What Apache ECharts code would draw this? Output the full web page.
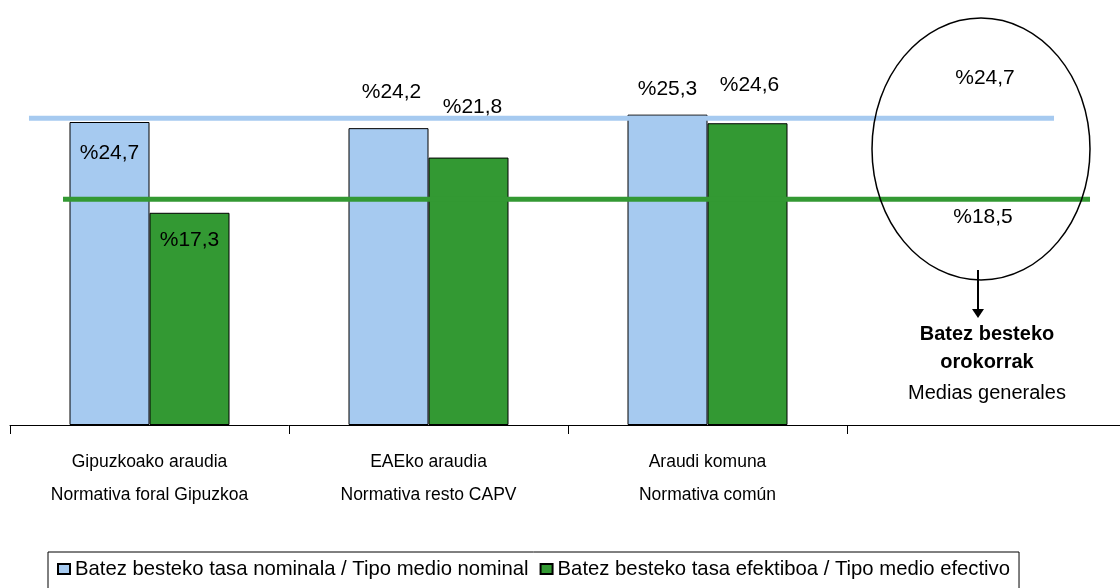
<!DOCTYPE html>
<html>
<head>
<meta charset="utf-8">
<script src="https://cdn.jsdelivr.net/npm/echarts@6/dist/echarts.min.js"></script>
<style>
  html, body { margin: 0; padding: 0; background: #fff; overflow: hidden; }
  /* el eje continúa un poco más allá del borde derecho */
  #chart { width: 1126px; height: 588px; }
</style>
</head>
<body>
<div id="chart"></div>
<script>
// datos del gráfico
var categories = [
  'Gipuzkoako araudia\nNormativa foral Gipuzkoa',
  'EAEko araudia\nNormativa resto CAPV',
  'Araudi komuna\nNormativa común',
  ''
]
var seriesNames = [
  'Batez besteko tasa nominala / Tipo medio nominal',
  'Batez besteko tasa efektiboa / Tipo medio efectivo'
]
var nominal = [24.7, 24.2, 25.3, null]
var efectivo = [17.3, 21.8, 24.6, null]
// medias generales (etiqueta) y altura a la que se dibuja cada línea
var avgValues = [24.7, 18.5]
var avgLineLevels = [25.0, 18.4]
var noteLines = ['Batez besteko', 'orokorrak', 'Medias generales']

var BLUE = '#A6CAF0'
var GREEN = '#339933'
var FONT = '"Liberation Sans", Arial, sans-serif'

function pct (v) {
  return '%' + v.toFixed(1).replace('.', ',')
}

// posición de cada etiqueta (estilo, no datos)
var nominalLabels = [
  { position: 'insideTop', distance: 21 },
  { position: 'top', distance: 25, offset: [3, 0] },
  { position: 'top', distance: 15 },
  {}
]
var efectivoLabels = [
  { position: 'insideTop', distance: 17 },
  { position: 'top', distance: 40, offset: [4, 0] },
  { position: 'top', distance: 28, offset: [2, 0] },
  {}
]

function barData (values, labels) {
  return values.map(function (v, i) {
    return { value: v, label: labels[i] }
  })
}

var myChart = echarts.init(document.getElementById('chart'))
myChart.setOption({
  animation: false,
  textStyle: { fontFamily: FONT },
  grid: { left: 10, right: 0, top: 57, bottom: 163, containLabel: false },
  xAxis: [{
    type: 'category',
    data: categories,
    axisLine: { lineStyle: { color: '#000', width: 1 } },
    axisTick: { show: true, length: 9, lineStyle: { color: '#000' } },
    axisLabel: { color: '#000', fontSize: 17.5, lineHeight: 33, margin: 21, fontFamily: FONT }
  }, {
    type: 'value',
    min: 0,
    max: categories.length,
    show: false
  }],
  yAxis: { type: 'value', min: 0, max: 30, show: false },
  legend: {
    left: 48,
    top: 552,
    padding: [7, 9, 12, 9],
    borderColor: '#000',
    borderWidth: 1,
    itemWidth: 12,
    itemHeight: 10,
    itemGap: 11,
    icon: 'rect',
    textStyle: { color: '#000', fontSize: 20.3, fontFamily: FONT },
    data: seriesNames
  },
  series: [{
    name: seriesNames[0],
    type: 'bar',
    barWidth: 80,
    barGap: '0%',
    itemStyle: { color: BLUE, borderColor: '#000', borderWidth: 1 },
    label: { show: true, color: '#000', fontSize: 21, formatter: function (p) { return pct(p.value) } },
    data: barData(nominal, nominalLabels)
  }, {
    name: seriesNames[1],
    type: 'bar',
    barWidth: 80,
    itemStyle: { color: GREEN, borderColor: '#000', borderWidth: 1 },
    label: { show: true, color: '#000', fontSize: 21, formatter: function (p) { return pct(p.value) } },
    data: barData(efectivo, efectivoLabels)
  }, {
    type: 'line',
    xAxisIndex: 1,
    symbol: 'none',
    z: 3,
    lineStyle: { color: BLUE, width: 5 },
    data: [[0.068, avgLineLevels[0]], [3.742, avgLineLevels[0]]]
  }, {
    type: 'line',
    xAxisIndex: 1,
    symbol: 'none',
    z: 3,
    lineStyle: { color: GREEN, width: 5 },
    data: [[0.19, avgLineLevels[1]], [3.871, avgLineLevels[1]]]
  }],
  graphic: [{
    type: 'ellipse',
    shape: { cx: 981, cy: 149, rx: 109, ry: 131 },
    style: { fill: 'none', stroke: '#000', lineWidth: 1.5 },
    z: 10
  }, {
    type: 'line',
    shape: { x1: 978, y1: 270, x2: 978, y2: 312 },
    style: { stroke: '#000', lineWidth: 2 },
    z: 10
  }, {
    type: 'polygon',
    shape: { points: [[972, 309], [984, 309], [978, 318]] },
    style: { fill: '#000' },
    z: 10
  }, {
    type: 'text',
    x: 985, y: 78,
    style: { text: pct(avgValues[0]), font: '21px ' + FONT, fill: '#000', align: 'center', verticalAlign: 'middle' },
    z: 10
  }, {
    type: 'text',
    x: 983, y: 217,
    style: { text: pct(avgValues[1]), font: '21px ' + FONT, fill: '#000', align: 'center', verticalAlign: 'middle' },
    z: 10
  }, {
    type: 'text',
    x: 987, y: 334,
    style: { text: noteLines[0], font: 'bold 20px ' + FONT, fill: '#000', align: 'center', verticalAlign: 'middle' },
    z: 10
  }, {
    type: 'text',
    x: 987, y: 362,
    style: { text: noteLines[1], font: 'bold 20px ' + FONT, fill: '#000', align: 'center', verticalAlign: 'middle' },
    z: 10
  }, {
    type: 'text',
    x: 987, y: 393,
    style: { text: noteLines[2], font: '20px ' + FONT, fill: '#000', align: 'center', verticalAlign: 'middle' },
    z: 10
  }]
})
</script>
</body>
</html>
